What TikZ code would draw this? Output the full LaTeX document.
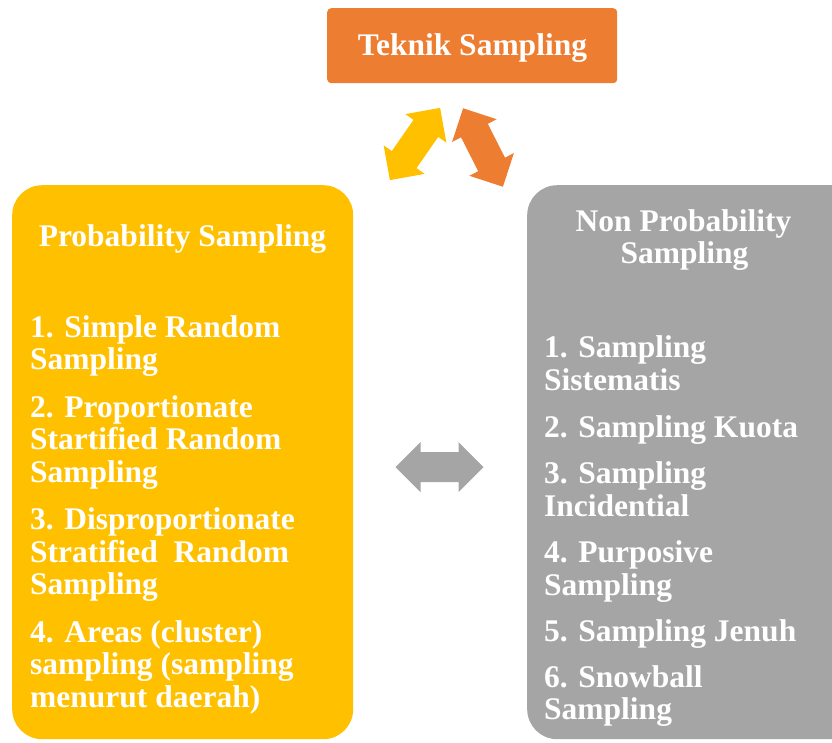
\documentclass[tikz,border=0pt]{standalone}
\usepackage{fontspec}
\setmainfont{Liberation Serif}
\definecolor{ora}{HTML}{ED7D31}
\definecolor{yel}{HTML}{FFC000}
\definecolor{gry}{HTML}{A5A5A5}
\newcommand{\dblarr}[4]{%
  \path[fill=#4, shift={(#1,#2)}, rotate=#3]
    (-44,0) -- (-19,25) -- (-19,15) -- (19,15) -- (19,25) -- (44,0)
    -- (19,-25) -- (19,-15) -- (-19,-15) -- (-19,-25) -- cycle;}
\begin{document}
\begin{tikzpicture}[x=1pt,y=-1pt,
  big/.style={text=white, font=\fontsize{31.5}{32.5}\selectfont\bfseries, inner sep=0pt},
  txt/.style={big, anchor=base west},
  ttl/.style={big, anchor=base},
  panel/.style={rounded corners=30pt, inner sep=0pt, anchor=north west, draw=none,
    minimum width=341pt, minimum height=554pt},
]
\useasboundingbox (0,0) rectangle (832,742);
\clip (0,0) rectangle (832,742);

% top box
\node[fill=ora, rounded corners=4pt, inner sep=0pt, minimum width=290pt,
  minimum height=75pt, anchor=north west] (top) at (327,8) {};
\node[ttl] (toptxt) at (472.5,55) {Teknik Sampling};

% panels
\node[panel, fill=yel] (prob) at (12,185) {};
\node[panel, fill=gry] (nonprob) at (527,185) {};

% arrows
\dblarr{415}{144}{55.2}{yel}
\dblarr{483}{147.5}{-63.1}{ora}
\dblarr{439.5}{467}{0}{gry}

% left texts
\node[ttl] (pt) at (182.5,246) {Probability Sampling};
\foreach \yy/\tt [count=\i] in {
  337/{1. Simple Random},
  369.5/{Sampling},
  417/{2. Proportionate},
  449.5/{Startified Random},
  482/{Sampling},
  529.5/{3. Disproportionate},
  562/{Stratified\ \ Random},
  594.5/{Sampling},
  642/{4. Areas (cluster)},
  674.5/{sampling (sampling},
  707/{menurut daerah)}}
  \node[txt] (L\i) at (30,\yy) {\tt};

% right texts
\node[ttl] (nt1) at (683.5,231.5) {Non Probability};
\node[ttl] (nt2) at (684.5,263.5) {Sampling};
\foreach \yy/\tt [count=\i] in {
  357.5/{1. Sampling},
  390/{Sistematis},
  437/{2. Sampling Kuota},
  483.5/{3. Sampling},
  516/{Incidential},
  562.5/{4. Purposive},
  595/{Sampling},
  641/{5. Sampling Jenuh},
  687/{6. Snowball},
  719/{Sampling}}
  \node[txt] (R\i) at (544,\yy) {\tt};
\end{tikzpicture}
\end{document}
